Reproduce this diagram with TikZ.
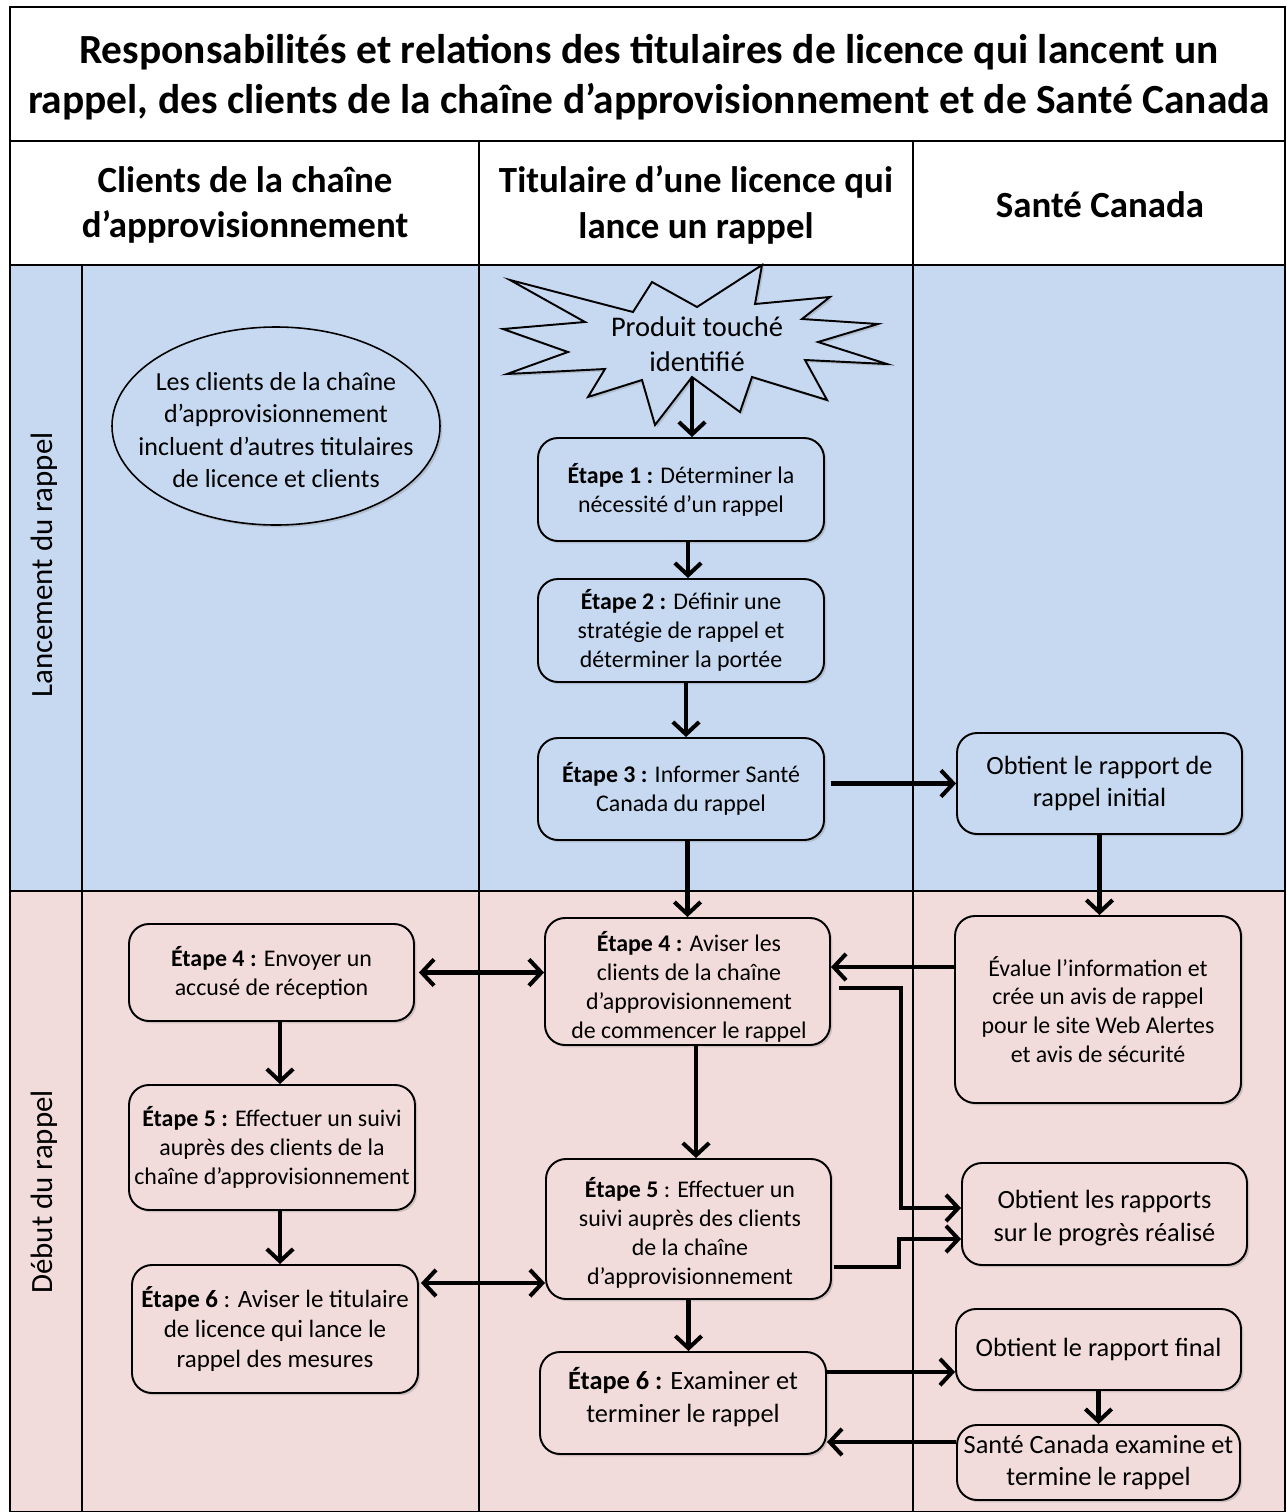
\documentclass[tikz,border=0pt]{standalone}
\usepackage{fontspec}
\setmainfont{Carlito}
\usetikzlibrary{arrows.meta,shadows,shapes.geometric,calc}
\definecolor{laneblue}{HTML}{C6D9F1}
\definecolor{lanepink}{HTML}{F2DCDB}
\begin{document}
\begin{tikzpicture}[x=0.02cm,y=-0.02cm,
  box/.style n args={3}{draw=black, line width=1.1pt, rounded corners=0.4cm,
    minimum width=#1*0.02cm, minimum height=#2*0.02cm, fill=#3, align=center,
    inner sep=0pt, font=\fontsize{13.6}{16.4}\selectfont,
    drop shadow={shadow xshift=1.3pt,shadow yshift=-1.3pt,opacity=0.3}},
  boxtext/.style={align=center, inner sep=0pt, font=\fontsize{13.6}{16.6}\selectfont},
  bigtext/.style={font=\fontsize{15}{18.4}\selectfont},
  midtext/.style={font=\fontsize{14.2}{17.3}\selectfont},
  hdr/.style={align=center, font=\bfseries\fontsize{21}{26}\selectfont},
  lanelbl/.style={rotate=90, font=\fontsize{17.6}{20}\selectfont},
  gridthick/.style={line width=1.3pt},
  gridthin/.style={line width=0.6pt},
  arr/.style={line width=2.3pt, -{Straight Barb[length=7pt,width=15pt]}},
  arrtwo/.style={line width=2.3pt, {Straight Barb[length=7pt,width=15pt]}-{Straight Barb[length=7pt,width=15pt]}}
]
\useasboundingbox (0,0) rectangle (1286,1512);
\fill[white] (0,0) rectangle (1286,1512);
% lanes
\fill[laneblue] (10,265) rectangle (1285,891);
\fill[lanepink] (10,891) rectangle (1285,1512);
% grid
\draw[gridthick] (10,7) rectangle (1285,1512);
\draw[gridthick] (10,141) -- (1285,141);
\draw[gridthick] (10,265) -- (1285,265);
\draw[gridthick] (10,891) -- (1285,891);
\draw[gridthick] (82,265) -- (82,1512);
\draw[gridthick] (479,141) -- (479,265);
\draw[gridthick] (913,141) -- (913,265);
\draw[gridthin] (479,265) -- (479,1512);
\draw[gridthin] (913,265) -- (913,1512);
% title and headers
\node[align=center, font=\bfseries\fontsize{23.6}{28.3}\selectfont] (title) at (649,77)
  {Responsabilités et relations des titulaires de licence qui lancent un\\rappel, des clients de la chaîne d’approvisionnement et de Santé Canada};
\node[hdr] (h1) at (245,205) {Clients de la chaîne\\d’approvisionnement};
\node[hdr] (h2) at (696,205) {Titulaire d’une licence qui\\lance un rappel};
\node[hdr] (h3) at (1100,205) {Santé Canada};
% lane labels
\node[lanelbl] (l1) at (44,565) {Lancement du rappel};
\node[lanelbl] (l2) at (44,1192) {Début du rappel};
% star
\draw[line width=1.1pt, fill=laneblue, drop shadow={shadow xshift=1.3pt,shadow yshift=-1.3pt,opacity=0.3}]
  (510,280) -- (633,312) -- (652,282) -- (697,307) -- (762,265) -- (755,304) -- (830,297)
  -- (802,319) -- (878,324) -- (818,342) -- (887,364) -- (805,360) -- (827,400) -- (752,377)
  -- (740,412) -- (692,377) -- (655,425) -- (642,380) -- (588,397) -- (605,369) -- (507,374)
  -- (568,352) -- (503,329) -- (585,322) -- cycle;
\node[align=center, font=\fontsize{16.2}{19.8}\selectfont] (star) at (697,344) {Produit touché\\identifié};
\coordinate (sb) at (692,378);
% ellipse
\node[ellipse, draw=black, line width=0.9pt, fill=laneblue, minimum width=328*0.02cm, minimum height=198*0.02cm,
  inner sep=0pt, drop shadow={shadow xshift=1.3pt,shadow yshift=-1.3pt,opacity=0.3}] (ell) at (276,426) {};
\node[align=center, inner sep=0pt, font=\fontsize{14.8}{18.3}\selectfont] (ellt) at (276,430)
  {Les clients de la chaîne\\d’approvisionnement\\incluent d’autres titulaires\\de licence et clients};
% boxes
\node[box={286}{103}{laneblue}] (e1) at (681,489.5) {\textbf{Étape 1 :} Déterminer la\\nécessité d’un rappel};
\node[box={286}{103}{laneblue}] (e2) at (681,630.5) {\textbf{Étape 2 :} Définir une\\stratégie de rappel et\\déterminer la portée};
\node[box={286}{102}{laneblue}] (e3) at (681,789) {\textbf{Étape 3 :} Informer Santé\\Canada du rappel};
\node[box={285}{101}{laneblue}, bigtext] (oinit) at (1099.5,783.5) {Obtient le rapport de\\rappel initial};
\node[box={285}{127}{lanepink}] (e4m) at (687.5,981.5) {};
\node[boxtext] (e4mt) at (689,987) {\textbf{Étape 4 :} Aviser les\\clients de la chaîne\\d’approvisionnement\\de commencer le rappel};
\node[box={286}{187}{lanepink}] (eval) at (1098,1009.5) {Évalue l’information et\\crée un avis de rappel\\pour le site Web Alertes\\et avis de sécurité};
\node[box={285}{97}{lanepink}] (e4l) at (271.5,972.5) {\textbf{Étape 4 :} Envoyer un\\accusé de réception};
\node[box={286}{125}{lanepink}] (e5l) at (272,1147.5) {\textbf{Étape 5 :} Effectuer un suivi\\auprès des clients de la\\chaîne d’approvisionnement};
\node[box={286}{128}{lanepink}, midtext] (e6l) at (275,1329) {\textbf{Étape 6} : Aviser le titulaire\\de licence qui lance le\\rappel des mesures};
\node[box={285}{140}{lanepink}] (e5m) at (688.5,1229) {};
\node[boxtext] (e5mt) at (690,1233) {\textbf{Étape 5} : Effectuer un\\suivi auprès des clients\\de la chaîne\\d’approvisionnement};
\node[box={285}{102}{lanepink}] (oprog) at (1104.5,1214) {};
\node[boxtext, bigtext] (oprogt) at (1104.5,1218) {Obtient les rapports\\sur le progrès réalisé};
\node[box={285}{81}{lanepink}, bigtext] (ofin) at (1098.5,1349.5) {Obtient le rapport final};
\node[box={286}{102}{lanepink}] (e6m) at (683,1403) {};
\node[boxtext, bigtext] (e6mt) at (683,1397) {\textbf{Étape 6 :} Examiner et\\terminer le rappel};
\node[box={283}{75}{lanepink}, bigtext] (scex) at (1098.5,1462.5) {Santé Canada examine et\\termine le rappel};
% connectors
\draw[arr] (sb) -- (e1.north -| sb);
\draw[arr] ([xshift=0.14cm]e1.south) -- ([xshift=0.14cm]e2.north);
\draw[arr] ([xshift=0.1cm]e2.south) -- ([xshift=0.1cm]e3.north);
\draw[arr] (e3.south -| e4m.north) -- (e4m.north);
\coordinate (c3) at ([xshift=0.12cm]e3.east |- oinit.west);
\draw[arr] (c3) -- (oinit.west);
\draw[arr] (oinit.south) -- (oinit.south |- eval.north);
\coordinate (ev1) at ([yshift=0.85cm]eval.west);
\draw[arr] (ev1) -- (e4m.east |- ev1);
\draw[arrtwo] ([xshift=0.08cm]e4l.east) -- (e4m.west |- e4l.east);
\coordinate (p1) at ([xshift=0.16cm,yshift=-0.13cm]e4m.east);
\draw[arr] (p1) -- ++(62,0) |- ([yshift=0.12cm]oprog.west);
\coordinate (p2) at ([xshift=0.04cm,yshift=-0.76cm]e5m.east);
\draw[arr] (p2) -- ++(65,0) |- ([yshift=-0.5cm]oprog.west);
\draw[arr] ([xshift=0.17cm]e4m.south) -- ([xshift=0.17cm]e4m.south |- e5m.north);
\draw[arr] ([xshift=0.17cm]e4l.south) -- ([xshift=0.17cm]e4l.south |- e5l.north);
\draw[arr] ([xshift=0.16cm]e5l.south) -- ([xshift=0.16cm]e5l.south |- e6l.north);
\coordinate (q1) at ([xshift=0.04cm,yshift=0.92cm]e6l.east);
\draw[arrtwo] (q1) -- (e5m.west |- q1);
\draw[arr] (e5m.south) -- (e5m.south |- e6m.north);
\coordinate (f1) at ([yshift=-0.45cm]ofin.west);
\draw[arr] (e6m.east |- f1) -- (f1);
\draw[arr] (ofin.south) -- (ofin.south |- scex.north);
\coordinate (s1) at ([yshift=0.41cm]scex.west);
\draw[arr] (s1) -- (e6m.east |- s1);
\end{tikzpicture}
\end{document}
